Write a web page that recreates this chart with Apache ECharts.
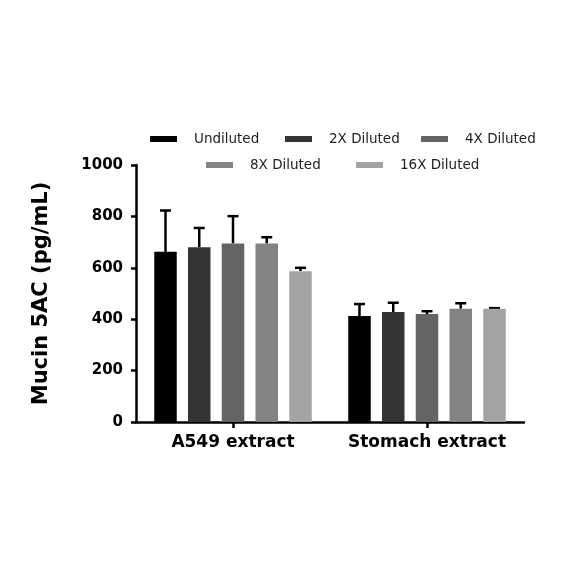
<!DOCTYPE html>
<html>
<head>
<meta charset="utf-8">
<script src="https://cdn.jsdelivr.net/npm/echarts@6/dist/echarts.min.js"></script>
<style>html,body{margin:0;padding:0;background:#fff}#c{width:584px;height:584px}</style>
</head>
<body>
<div id="c"></div>
<script>
const categories = ['A549 extract', 'Stomach extract'];
const seriesNames = ['Undiluted', '2X Diluted', '4X Diluted', '8X Diluted', '16X Diluted'];
const meanUndiluted = [662, 412];
const mean2X = [680, 428];
const mean4X = [695, 420];
const mean8X = [695, 441];
const mean16X = [587, 441];
const sdUndiluted = [161, 47];
const sd2X = [75, 36];
const sd4X = [106, 11];
const sd8X = [24, 21];
const sd16X = [13, 2];
const yTickValues = [0, 200, 400, 600, 800, 1000];

const means = [meanUndiluted, mean2X, mean4X, mean8X, mean16X];
const sds = [sdUndiluted, sd2X, sd4X, sd8X, sd16X];
const colors = ['#000000', '#343434', '#646464', '#838383', '#a3a3a6'];
const FONT = 'DejaVu Sans';
const BAR_W = 22.5;
const GAP = 0.5;
const legendPos = [[150, 132], [285, 132], [421, 132], [206, 158], [356, 158]];

const chart = echarts.init(document.getElementById('c'), null, {renderer: 'canvas'});

const series = [];
seriesNames.forEach((name, i) => {
  series.push({
    name: name,
    type: 'bar',
    data: means[i],
    barWidth: BAR_W,
    barGap: (GAP * 100) + '%',
    itemStyle: {color: colors[i]},
    z: 3
  });
});
seriesNames.forEach((name, i) => {
  series.push({
    type: 'custom',
    z: 2,
    silent: true,
    data: categories.map((c, k) => [k, means[i][k], means[i][k] + sds[i][k]]),
    renderItem: function (params, api) {
      const k = api.value(0);
      const off = (i - (seriesNames.length - 1) / 2) * BAR_W * (1 + GAP);
      const pLow = api.coord([k, api.value(1)]);
      const pHigh = api.coord([k, api.value(2)]);
      const x = pLow[0] + off;
      const cap = 5.5;
      return {
        type: 'group',
        children: [
          {type: 'line', shape: {x1: x, y1: pLow[1], x2: x, y2: pHigh[1]}, style: {stroke: '#000', lineWidth: 2.5}},
          {type: 'line', shape: {x1: x - cap, y1: pHigh[1], x2: x + cap, y2: pHigh[1]}, style: {stroke: '#000', lineWidth: 2.5}}
        ]
      };
    }
  });
});

const legends = seriesNames.map((name, i) => ({
  data: [name],
  left: legendPos[i][0],
  top: legendPos[i][1],
  padding: 0,
  itemWidth: 27,
  itemHeight: 6,
  icon: 'rect',
  selectedMode: false,
  textStyle: {fontFamily: FONT, fontSize: 13.5, color: '#222', padding: [0, 0, 0, 12]}
}));

chart.setOption({
  animation: false,
  backgroundColor: '#fff',
  legend: legends,
  grid: {left: 136, right: 60, top: 165, bottom: 162},
  xAxis: {
    type: 'category',
    data: categories,
    axisLine: {show: true, lineStyle: {color: '#000', width: 2.5}},
    axisTick: {show: true, alignWithLabel: true, interval: 0, length: 6, lineStyle: {color: '#000', width: 2.5}},
    axisLabel: {interval: 0, fontFamily: FONT, fontWeight: 'bold', fontSize: 17, color: '#000', margin: 12}
  },
  yAxis: {
    type: 'value',
    min: yTickValues[0],
    max: yTickValues[yTickValues.length - 1],
    interval: yTickValues[1] - yTickValues[0],
    name: 'Mucin 5AC (pg/mL)',
    nameLocation: 'middle',
    nameGap: 84,
    nameTextStyle: {fontFamily: FONT, fontWeight: 'bold', fontSize: 21, color: '#000'},
    axisLine: {show: true, lineStyle: {color: '#000', width: 2.5}},
    axisTick: {show: true, length: 5, lineStyle: {color: '#000', width: 2.5}},
    axisLabel: {fontFamily: FONT, fontWeight: 'bold', fontSize: 15, color: '#000', margin: 13,
      formatter: function (v) { return String(v); }},
    splitLine: {show: false}
  },
  series: series
});
</script>
</body>
</html>
